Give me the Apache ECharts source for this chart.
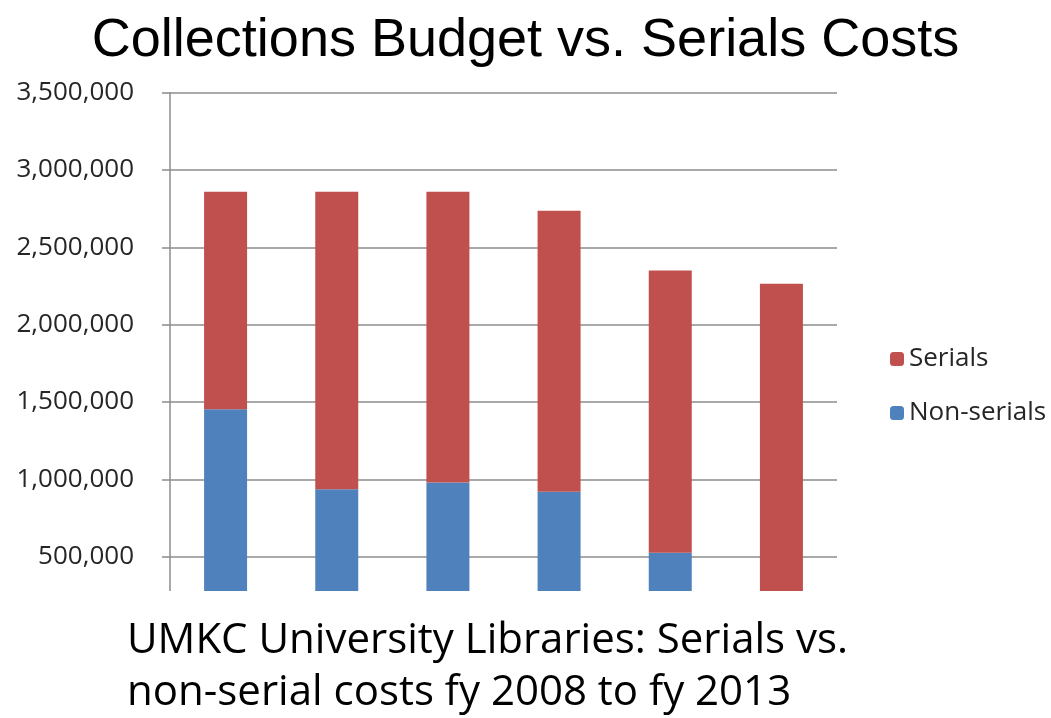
<!DOCTYPE html>
<html>
<head>
<meta charset="utf-8">
<script src="https://cdn.jsdelivr.net/npm/echarts@6/dist/echarts.min.js"></script>
<style>
html,body{margin:0;padding:0;background:#fff;}
#chart{width:1051px;height:718px;}
</style>
</head>
<body>
<div id="chart"></div>
<script>
const categories = ['FY2008', 'FY2009', 'FY2010', 'FY2011', 'FY2012', 'FY2013'];
const nonSerials = [1453000, 936000, 979000, 920000, 526000, 200000];
const serialsTotal = [2860000, 2860000, 2860000, 2736000, 2350000, 2265000];
const serials = serialsTotal.map((t, i) => t - nonSerials[i]);
const yTicks = [0, 500000, 1000000, 1500000, 2000000, 2500000, 3000000, 3500000];
const titleText = 'Collections Budget vs. Serials Costs';
const subtitleLines = ['UMKC University Libraries: Serials vs.', 'non-serial costs fy 2008 to fy 2013'];

const chart = echarts.init(document.getElementById('chart'));
const labelFont = '"Open Sans", sans-serif';
chart.setOption({
  animation: false,
  backgroundColor: '#ffffff',
  title: {
    text: titleText,
    left: 'center',
    top: 9,
    textStyle: { fontFamily: '"Liberation Sans", Arial, sans-serif', fontSize: 54, fontWeight: 'normal', color: '#000' }
  },
  legend: {
    orient: 'vertical',
    left: 885,
    top: 341,
    itemWidth: 14,
    itemHeight: 14,
    itemGap: 28,
    itemTextGap: 10,
    data: ['Serials', 'Non-serials'],
    textStyle: { fontFamily: labelFont, fontSize: 26, color: '#262626', lineHeight: 26 }
  },
  grid: { left: 170, right: 214, top: 92.7, bottom: 84, containLabel: false },
  xAxis: {
    type: 'category',
    data: categories,
    axisLine: { show: false },
    axisTick: { show: false },
    axisLabel: { show: false }
  },
  yAxis: {
    type: 'value',
    min: yTicks[0],
    max: yTicks[yTicks.length - 1],
    interval: 500000,
    axisLine: { show: true, lineStyle: { color: '#8c8c8c', width: 1.5 } },
    axisTick: { show: true, length: 8, lineStyle: { color: '#8c8c8c', width: 1.5 } },
    splitLine: { show: true, lineStyle: { color: '#8c8c8c', width: 1.5 } },
    axisLabel: {
      margin: 36,
      fontFamily: labelFont,
      fontSize: 26,
      color: '#262626',
      formatter: v => v.toLocaleString('en-US')
    }
  },
  series: [
    {
      name: 'Non-serials',
      type: 'bar',
      stack: 'total',
      barWidth: 43,
      data: nonSerials,
      itemStyle: { color: '#4F81BD' }
    },
    {
      name: 'Serials',
      type: 'bar',
      stack: 'total',
      barWidth: 43,
      data: serials,
      itemStyle: { color: '#C0504D' }
    }
  ],
  graphic: [
    { type: 'rect', left: 0, top: 591, shape: { width: 1051, height: 127 }, style: { fill: '#ffffff' }, z: 100 },
    { type: 'text', x: 127, y: 641, z: 101,
      style: { text: subtitleLines[0], fontFamily: labelFont, fontSize: 42, fill: '#000', verticalAlign: 'middle' } },
    { type: 'text', x: 127, y: 693, z: 101,
      style: { text: subtitleLines[1], fontFamily: labelFont, fontSize: 42, fill: '#000', verticalAlign: 'middle' } }
  ]
});
</script>
</body>
</html>
